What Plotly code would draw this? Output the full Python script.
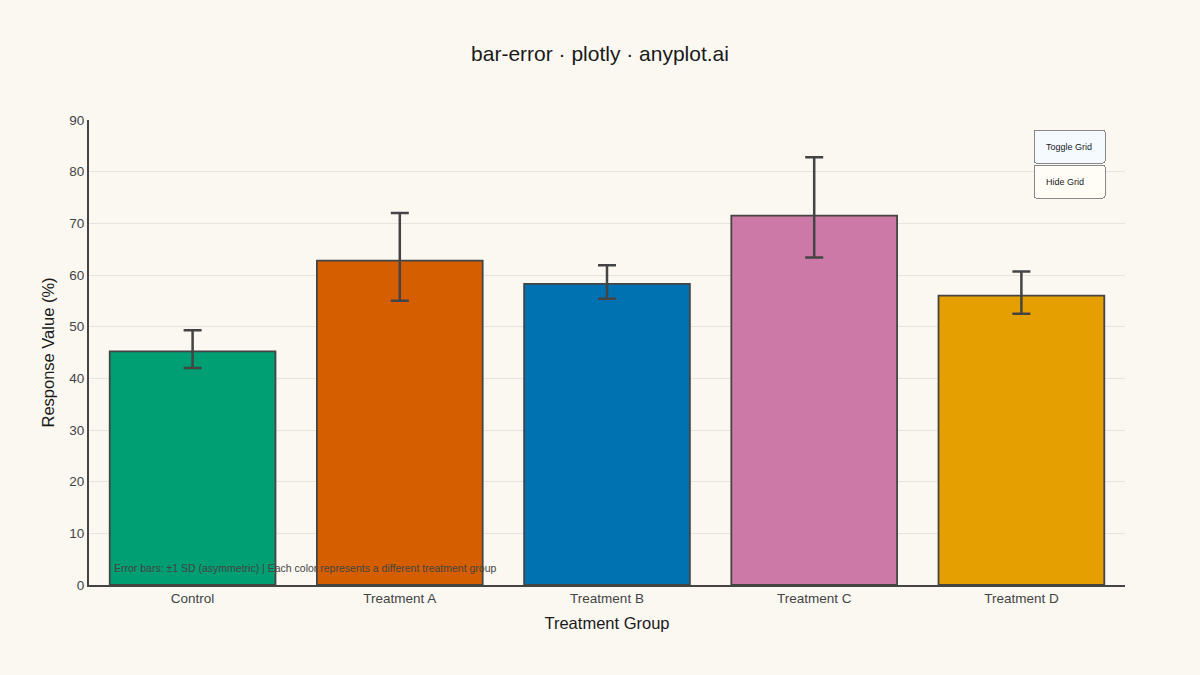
import plotly.graph_objects as go

categories = ["Control", "Treatment A", "Treatment B", "Treatment C", "Treatment D"]
means = [45.2, 62.8, 58.3, 71.5, 56.0]
err_plus = [4.1, 9.2, 3.6, 11.3, 4.7]
err_minus = [3.2, 7.8, 2.9, 8.1, 3.5]
colors = ["#009E73", "#D55E00", "#0072B2", "#CC79A7", "#E69F00"]

BG = "#FAF8F1"
INK = "#1A1A1A"
INK2 = "#444444"

fig = go.Figure()
fig.add_trace(go.Bar(
    x=categories,
    y=means,
    marker=dict(color=colors, line=dict(color="#444444", width=1.8)),
    width=0.8,
    error_y=dict(
        type="data",
        symmetric=False,
        array=err_plus,
        arrayminus=err_minus,
        color="#444444",
        thickness=2.5,
        width=9,
    ),
    showlegend=False,
))

fig.update_layout(
    width=1200,
    height=675,
    paper_bgcolor=BG,
    plot_bgcolor=BG,
    font=dict(family="Liberation Sans, Arial, sans-serif", color=INK2, size=13.5),
    title=dict(
        text="bar-error · plotly · anyplot.ai",
        x=0.5,
        xanchor="center",
        y=0.921,
        yanchor="middle",
        font=dict(size=21, color=INK),
    ),
    margin=dict(l=89, r=75, t=120, b=90),
    xaxis=dict(
        title=dict(text="Treatment Group", font=dict(size=16.5, color=INK), standoff=12),
        tickfont=dict(size=13.5, color=INK2),
        showline=True,
        linecolor=INK2,
        linewidth=2,
        showgrid=False,
        ticks="",
    ),
    yaxis=dict(
        title=dict(text="Response Value (%)", font=dict(size=16.5, color=INK), standoff=10),
        tickfont=dict(size=13.5, color=INK2),
        range=[0, 90],
        dtick=10,
        showline=True,
        linecolor=INK2,
        linewidth=2,
        showgrid=True,
        gridcolor="rgba(0,0,0,0.08)",
        gridwidth=1,
        zeroline=False,
        ticks="",
    ),
    annotations=[
        dict(
            text="Error bars: ±1 SD (asymmetric) | Each color represents a different treatment group",
            xref="paper", yref="paper",
            x=0.022, y=0.02,
            xanchor="left", yanchor="bottom",
            showarrow=False,
            font=dict(size=10.5, color=INK2),
        )
    ],
    updatemenus=[
        dict(
            type="buttons",
            direction="down",
            x=0.98, y=0.98,
            xanchor="right", yanchor="top",
            bgcolor="#FFFDF6",
            bordercolor="#888888",
            font=dict(size=9, color=INK),
            pad=dict(r=0, t=0),
            showactive=True,
            buttons=[
                dict(label="Toggle Grid", method="relayout", args=[{"yaxis.showgrid": True}]),
                dict(label="Hide Grid", method="relayout", args=[{"yaxis.showgrid": False}]),
            ],
        )
    ],
)

fig.write_html(
    "out.html",
    config={"displayModeBar": False},
    post_script="document.body.style.margin='0';document.body.style.background='" + BG + "';",
)
